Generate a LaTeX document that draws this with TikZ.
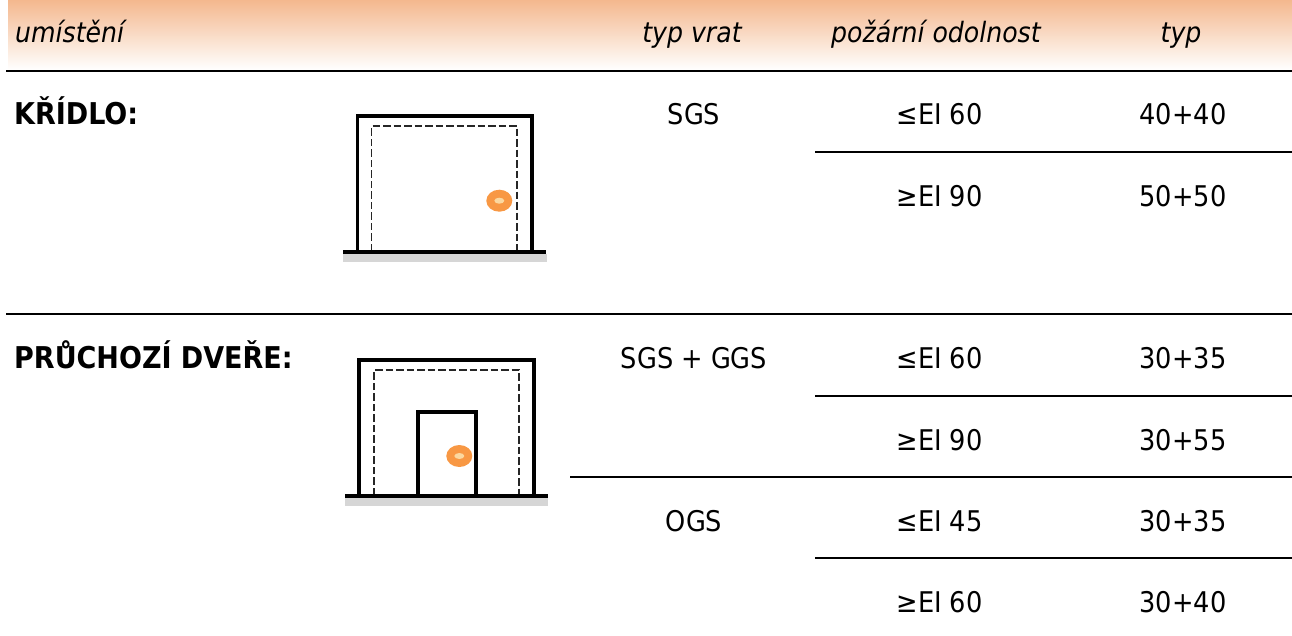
\documentclass[tikz,border=0pt]{standalone}
\usepackage{fontspec}
\setmainfont{DejaVu Sans Condensed}
\definecolor{bandtop}{RGB}{244,184,142}
\definecolor{knobcol}{RGB}{248,152,68}
\definecolor{knobmid}{RGB}{251,216,160}
\begin{document}
\begin{tikzpicture}[x=1pt,y=-1pt,
  txt/.style={font=\fontsize{28.5}{32}\selectfont,inner sep=0pt,text=black},
  ital/.style={font=\fontsize{28}{32}\selectfont\itshape,inner sep=0pt,text=black},
  sectionhead/.style={font=\fontsize{30}{34}\selectfont\bfseries,inner sep=0pt,text=black,anchor=base west},
  rule/.style={black,line width=1.2pt},
  wall/.style={black,line width=3.7pt,line cap=butt,line join=miter},
  hidden/.style={black!85,line width=1.3pt,dash pattern=on 7.5pt off 3pt},
  ground/.style={black,line width=3.7pt},
  base/.style={fill=black!16,draw=none},
  knob/.style={fill=knobcol,draw=none},
  knobin/.style={fill=knobmid,draw=none}]
\useasboundingbox (0,0) rectangle (1292,635);
\shade[top color=bandtop,bottom color=white,draw=none] (8,0) rectangle (1292,70);
\node[ital,anchor=base west] (h1) at (15,42) {umístění};
\node[ital,anchor=base] (h2) at (692,42) {typ vrat};
\node[ital,anchor=base] (h3) at (936,42) {požární odolnost};
\node[ital,anchor=base] (h4) at (1181,42) {typ};
\draw[rule] (6,71) -- (1292,71);
\draw[rule] (6,314) -- (1292,314);
\draw[rule] (815,152) -- (1292,152);
\draw[rule] (815,396) -- (1292,396);
\draw[rule] (570,477) -- (1292,477);
\draw[rule] (815,558) -- (1292,558);
\node[sectionhead] (a) at (14,124) {KŘÍDLO:};
\node[sectionhead] (b) at (14,368) {PRŮCHOZÍ DVEŘE:};
\foreach \n/\x/\y/\t in {s1/694/124/SGS,e1/939.5/124/≤EI 60,t1/1183/124/40+40,e2/939.5/206/≥EI 90,t2/1183/206/50+50,
  s2/694/368/SGS + GGS,e3/939.5/368/≤EI 60,t3/1183/368/30+35,e4/939.5/450/≥EI 90,t4/1183/450/30+55,
  s3/694/531/OGS,e5/939.5/531/≤EI 45,t5/1183/531/30+35,e6/939.5/612/≥EI 60,t6/1183/612/30+40}
  \node[txt,anchor=base] (\n) at (\x,\y) {\t};
% first door
\fill[base] (343,253.5) rectangle (547,261.7);
\draw[hidden] (371.7,251) -- (371.7,126) -- (517,126) -- (517,251);
\draw[wall] (357.5,252) -- (357.5,116) -- (531.8,116) -- (531.8,252);
\draw[ground] (343,251.7) -- (546,251.7);
\fill[knob] (499.3,200.7) ellipse (13 and 11);
\fill[knobin] (499.3,200.7) ellipse (5 and 3);
% second door
\fill[base] (345,497.5) rectangle (548,506);
\draw[hidden] (374,495) -- (374,370) -- (519,370) -- (519,495);
\draw[wall] (359.3,496) -- (359.3,359.7) -- (533.7,359.7) -- (533.7,496);
\draw[wall] (417.7,496) -- (417.7,412) -- (475.7,412) -- (475.7,496);
\draw[ground] (345,495.7) -- (548,495.7);
\fill[knob] (459.3,456) ellipse (13 and 11);
\fill[knobin] (459.3,456) ellipse (5 and 3);
\end{tikzpicture}
\end{document}
